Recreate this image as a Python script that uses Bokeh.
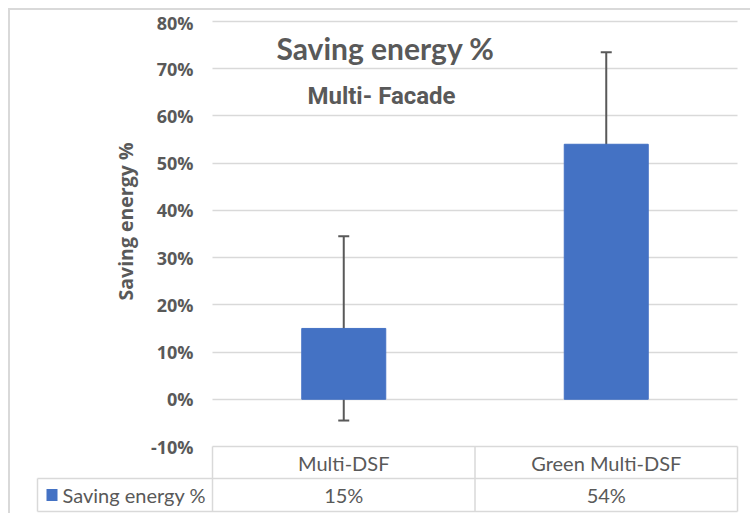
import math
from bokeh.plotting import figure
from bokeh.layouts import column
from bokeh.models import (ColumnDataSource, Range1d, FixedTicker,
                          CustomJSTickFormatter, Whisker, TeeHead, Label)
from bokeh.core.properties import value
from bokeh.embed import file_html
from bokeh.resources import INLINE

# ---- data ----
categories = ["Multi-DSF", "Green Multi-DSF"]
saving = [15, 54]
error = [19.5, 19.5]
y_ticks = [-10, 0, 10, 20, 30, 40, 50, 60, 70, 80]
series_name = "Saving energy %"
title_text = "Saving energy %"
subtitle_text = "Multi- Facade"
y_label = "Saving energy %"

# ---- style / layout (page pixels) ----
TXT = "#595959"
GRID = "#D9D9D9"
BAR = "#4472C4"
OX, OY = 10, 10            # content origin (8px margin + 2px chart border)
PAGE_R, PAGE_B = 750, 513
FRAME_L, FRAME_R, FRAME_T = 35, 739, 10
PLOT_L, PLOT_R = 212, 737  # plot area left / right
Y_TOP_PX, Y_BOT_PX = 21, 446
ROW1_B = 478               # bottom of first table row
ROW2_B = 511               # bottom of table
LEG_L = 37                 # left of legend cell

n = len(categories)
cat_px = (PLOT_R - PLOT_L) / n
upp = (y_ticks[-1] - y_ticks[0]) / (Y_BOT_PX - Y_TOP_PX)   # y units per px


def px2x(px):
    return (px - PLOT_L) / cat_px


def px2y(py):
    return y_ticks[0] - (py - Y_BOT_PX) * upp


xs = [i + 0.5 for i in range(n)]
src = ColumnDataSource(dict(
    x=xs, cat=categories, val=saving,
    upper=[v + e for v, e in zip(saving, error)],
    lower=[v - e for v, e in zip(saving, error)],
))

W = PAGE_R - OX
H = PAGE_B - OY
p = figure(x_range=Range1d(px2x(FRAME_L), px2x(FRAME_R)),
           y_range=Range1d(px2y(PAGE_B), px2y(FRAME_T)),
           width=W, height=H, output_backend="svg", toolbar_location=None,
           min_border_left=FRAME_L - OX, min_border_right=PAGE_R - FRAME_R,
           min_border_top=FRAME_T - OY, min_border_bottom=0)
p.outline_line_color = None
p.background_fill_color = "white"
p.border_fill_color = "white"

p.xaxis.visible = False
p.xgrid.grid_line_color = None
p.ygrid.grid_line_color = GRID
p.ygrid.grid_line_width = 1.5
p.ygrid.cross_bounds = (0, n)

yax = p.yaxis[0]
yax.fixed_location = 0
yax.ticker = FixedTicker(ticks=y_ticks)
yax.formatter = CustomJSTickFormatter(code="return Math.round(tick) + '%';")
yax.axis_line_color = None
yax.major_tick_line_color = None
yax.minor_tick_line_color = None
yax.major_tick_out = 0
yax.major_tick_in = 0
yax.major_label_standoff = 19
yax.major_label_text_font = "Open Sans"
yax.major_label_text_font_size = "18px"
yax.major_label_text_font_style = "bold"
yax.major_label_text_color = TXT

# y-axis title, centred on the plot area (not on the whole frame incl. table)
p.add_layout(Label(x=125 - OX, y=221 - OY, x_units="canvas", y_units="canvas", text=y_label,
                   angle=math.pi / 2, text_align="center", text_baseline="middle",
                   text_font="Open Sans", text_font_size="19.5px", text_font_style="bold",
                   text_color=TXT))

p.vbar(x="x", top="val", width=0.32, source=src, fill_color=BAR, line_color=BAR)

p.add_layout(Whisker(source=src, base="x", upper="upper", lower="lower",
                     line_color=TXT, line_width=2,
                     upper_head=TeeHead(size=11, line_color=TXT, line_width=2),
                     lower_head=TeeHead(size=11, line_color=TXT, line_width=2)))

# ---- data table ----
y_r1, y_r2 = px2y(ROW1_B), px2y(ROW2_B)
xl = px2x(LEG_L)
vx = list(range(n + 1))
p.segment(x0=vx, x1=vx, y0=[y_ticks[0]] * len(vx), y1=[y_r2] * len(vx),
          line_color=GRID, line_width=1.5)
p.segment(x0=[xl, xl, xl], x1=[xl, n, n], y0=[y_r1, y_r1, y_r2], y1=[y_r2, y_r1, y_r2],
          line_color=GRID, line_width=1.5)

row1_mid = (y_ticks[0] + y_r1) / 2
row2_mid = (y_r1 + y_r2) / 2
p.text(x=xs, y=[row1_mid] * n, text=categories,
       text_align="center", text_baseline="middle",
       text_font=value("Lato"), text_font_size="20px", text_color=TXT)
p.text(x=xs, y=[row2_mid] * n, text=[f"{v}%" for v in saving],
       text_align="center", text_baseline="middle",
       text_font=value("Lato"), text_font_size="20px", text_color=TXT)
p.rect(x=[px2x(51.5)], y=[row2_mid], width=11, height=12, width_units="screen",
       height_units="screen", fill_color=BAR, line_color=None)
p.text(x=[px2x(62)], y=[row2_mid], text=[series_name], text_align="left",
       text_baseline="middle", text_font=value("Lato"), text_font_size="20px",
       text_color=TXT)

# ---- titles ----
p.add_layout(Label(x=385 - OX, y=47 - OY, x_units="canvas", y_units="canvas", text=title_text,
                   text_align="center", text_baseline="alphabetic", text_font="Lato",
                   text_font_size="30px", text_font_style="bold", text_color=TXT))
p.add_layout(Label(x=381 - OX, y=95 - OY, x_units="canvas", y_units="canvas", text=subtitle_text,
                   text_align="center", text_baseline="alphabetic", text_font="Roboto",
                   text_font_size="24px", text_font_style="bold", text_color=TXT))

layout = column(p, margin=(OY - 2, 0, 0, OX - 2),
                styles={"border-left": "2px solid #D9D9D9", "border-top": "2px solid #D9D9D9"})

open("out.html", "w").write(file_html(layout, INLINE))
